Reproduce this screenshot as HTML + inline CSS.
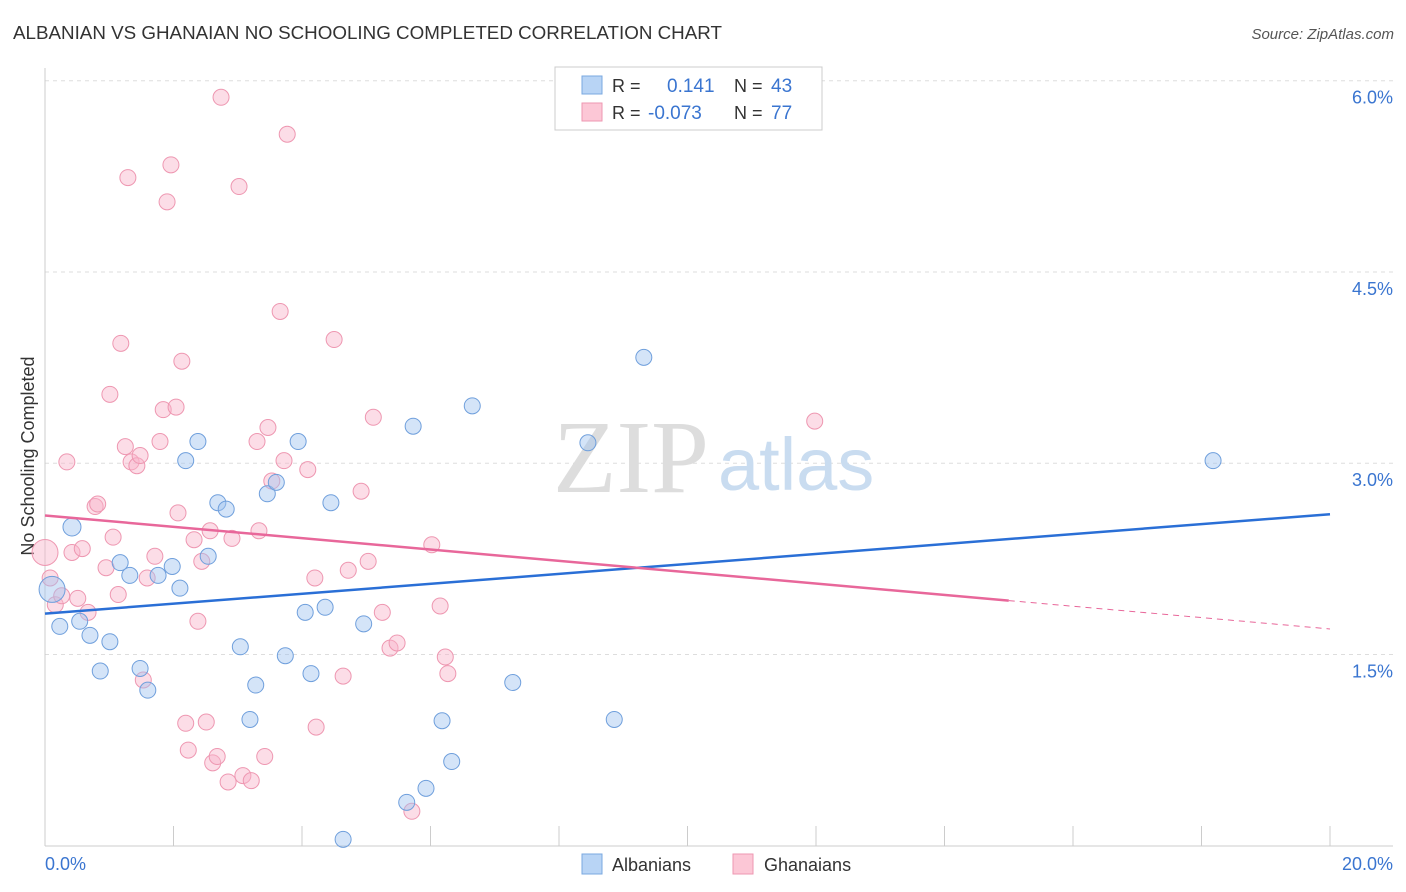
<!DOCTYPE html>
<html><head><meta charset="utf-8">
<style>
body{margin:0;background:#fff;font-family:"Liberation Sans",sans-serif;}
#c{position:absolute;left:0;top:0;}
</style></head>
<body>
<svg id="c" width="1406" height="892">
<text x="13" y="39" font-size="18.8" fill="#333">ALBANIAN VS GHANAIAN NO SCHOOLING COMPLETED CORRELATION CHART</text>
<text x="1394" y="39" font-size="15" fill="#555" font-style="italic" text-anchor="end">Source: ZipAtlas.com</text>
<text x="34" y="456" font-size="18" fill="#333" text-anchor="middle" transform="rotate(-90 34 456)">No Schooling Completed</text>
<g id="grid"></g>
<text x="553" y="492" font-size="104" fill="#ddd" font-family="Liberation Serif">ZIP</text>
<text x="718" y="490" font-size="74" fill="#c9dcf0">atlas</text>
<g id="pts"></g>
<g id="lines"></g>
<g>
<rect x="555" y="67" width="267" height="63" fill="#fff" stroke="#ccc"/>
<rect x="582" y="76" width="20" height="18" fill="#b8d4f5" stroke="#7aa8e0"/>
<rect x="582" y="103" width="20" height="18" fill="#fcc7d6" stroke="#ee97b1"/>
<text x="612" y="92" font-size="18" fill="#333">R = </text><text x="667" y="92" font-size="19" fill="#3a75d0">0.141</text>
<text x="734" y="92" font-size="18" fill="#333">N = </text><text x="771" y="92" font-size="19" fill="#3a75d0">43</text>
<text x="612" y="119" font-size="18" fill="#333">R = </text><text x="648" y="119" font-size="19" fill="#3a75d0">-0.073</text>
<text x="734" y="119" font-size="18" fill="#333">N = </text><text x="771" y="119" font-size="19" fill="#3a75d0">77</text>
</g>
<g>
<rect x="582" y="854" width="20" height="20" fill="#b8d4f5" stroke="#7aa8e0"/>
<text x="612" y="871" font-size="18" fill="#333">Albanians</text>
<rect x="733" y="854" width="20" height="20" fill="#fcc7d6" stroke="#ee97b1"/>
<text x="764" y="871" font-size="18" fill="#333">Ghanaians</text>
</g>
</svg>
<script>
const yTicks=[1.5,3.0,4.5,6.0];
const yTickLabels=["1.5%","3.0%","4.5%","6.0%"];
const xTicks=[0,2,4,6,8,10,12,14,16,18,20];
const albX=[0.11,0.42,0.23,0.54,0.70,1.01,0.86,1.17,1.32,1.48,1.60,1.76,1.98,2.10,2.19,2.38,2.54,2.69,2.82,3.04,3.19,3.28,3.46,3.60,3.74,3.94,4.05,4.14,4.36,4.45,4.64,4.96,5.63,5.73,5.93,6.18,6.33,6.65,7.28,8.45,8.86,9.32,18.18];
const albY=[2.01,2.50,1.72,1.76,1.65,1.60,1.37,2.22,2.12,1.39,1.22,2.12,2.19,2.02,3.02,3.17,2.27,2.69,2.64,1.56,0.99,1.26,2.76,2.85,1.49,3.17,1.83,1.35,1.87,2.69,0.05,1.74,0.34,3.29,0.45,0.98,0.66,3.45,1.28,3.16,0.99,3.83,3.02];
const ghaX=[0.00,0.08,0.16,0.26,0.34,0.42,0.51,0.58,0.67,0.78,0.82,0.95,1.06,1.14,1.18,1.01,1.25,1.29,1.34,1.43,1.48,1.53,1.59,1.71,1.79,1.84,1.90,1.96,2.04,2.07,2.13,2.19,2.23,2.32,2.38,2.44,2.51,2.57,2.61,2.68,2.74,2.85,2.91,3.02,3.08,3.21,3.30,3.33,3.42,3.47,3.53,3.66,3.72,3.77,4.09,4.20,4.22,4.50,4.64,4.72,4.92,5.03,5.11,5.25,5.37,5.48,5.71,6.02,6.15,6.23,6.27,11.98];
const ghaY=[2.30,2.10,1.89,1.96,3.01,2.30,1.94,2.33,1.83,2.66,2.68,2.18,2.42,1.97,3.94,3.54,3.13,5.24,3.01,2.98,3.06,1.30,2.10,2.27,3.17,3.42,5.05,5.34,3.44,2.61,3.80,0.96,0.75,2.40,1.76,2.23,0.97,2.47,0.65,0.70,5.87,0.50,2.41,5.17,0.55,0.51,3.17,2.47,0.70,3.28,2.86,4.19,3.02,5.58,2.95,2.10,0.93,3.97,1.33,2.16,2.78,2.23,3.36,1.83,1.55,1.59,0.27,2.36,1.88,1.48,1.35,3.33];
const albTrend=[1.82,2.60];
const ghaTrend=[2.59,1.70];
const ghaSolidEnd=15;
const NS="http://www.w3.org/2000/svg";
const X=v=>45+v*64.25, Y=v=>845.7-v*127.5;
function mk(t,a,p){const e=document.createElementNS(NS,t);for(const k in a)e.setAttribute(k,a[k]);p.appendChild(e);return e;}
const g=document.getElementById('grid');
yTicks.forEach((t,i)=>{
 const l=mk('line',{x1:45,x2:1393,y1:Y(t),y2:Y(t),stroke:'#ddd','stroke-dasharray':'4,4'},g);
 
 
 const tx=mk('text',{x:1393,y:Y(t)+23,'font-size':18,fill:'#3a75d0','text-anchor':'end'},g);
 tx.textContent=yTickLabels[i];
 
 
});
const ax=mk('line',{x1:45,x2:45,y1:68,y2:846,stroke:'#ccc'},g);


const bx=mk('line',{x1:45,x2:1393,y1:846,y2:846,stroke:'#ccc'},g);


xTicks.forEach(t=>{
 const l=mk('line',{x1:X(t),x2:X(t),y1:826,y2:846,stroke:'#ccc'},g);
 
 
});
[[0,'0.0%','start',45],[20,'20.0%','end',1393]].forEach(d=>{
 const tx=mk('text',{x:d[3],y:870,'font-size':18,fill:'#3a75d0','text-anchor':d[2]},g);
 tx.textContent=d[1];
 
 
});
const p=document.getElementById('pts');
ghaX.forEach((x,i)=>{
 const c=mk('circle',{cx:X(x),cy:Y(ghaY[i]),r:i==0?13:8,fill:'rgba(248,180,202,0.45)',stroke:'#ee97b1','stroke-width':1},p);
 
 
});
albX.forEach((x,i)=>{
 const c=mk('circle',{cx:X(x),cy:Y(albY[i]),r:i==0?13:(i==1?9:8),fill:'rgba(160,196,240,0.45)',stroke:'#6f9fdc','stroke-width':1},p);
 
 
});
const L=document.getElementById('lines');
const b=mk('line',{x1:X(0),y1:Y(albTrend[0]),x2:X(20),y2:Y(albTrend[1]),stroke:'#2a6fd6','stroke-width':2.5},L);


const gy=v=>ghaTrend[0]+(ghaTrend[1]-ghaTrend[0])*v/20;
const r=mk('line',{x1:X(0),y1:Y(gy(0)),x2:X(ghaSolidEnd),y2:Y(gy(ghaSolidEnd)),stroke:'#e8679a','stroke-width':2.5},L);


const rd=mk('line',{x1:X(ghaSolidEnd),y1:Y(gy(ghaSolidEnd)),x2:X(20),y2:Y(gy(20)),stroke:'#e8679a','stroke-width':1,'stroke-dasharray':'6,5'},L);


</script>
</body></html>
